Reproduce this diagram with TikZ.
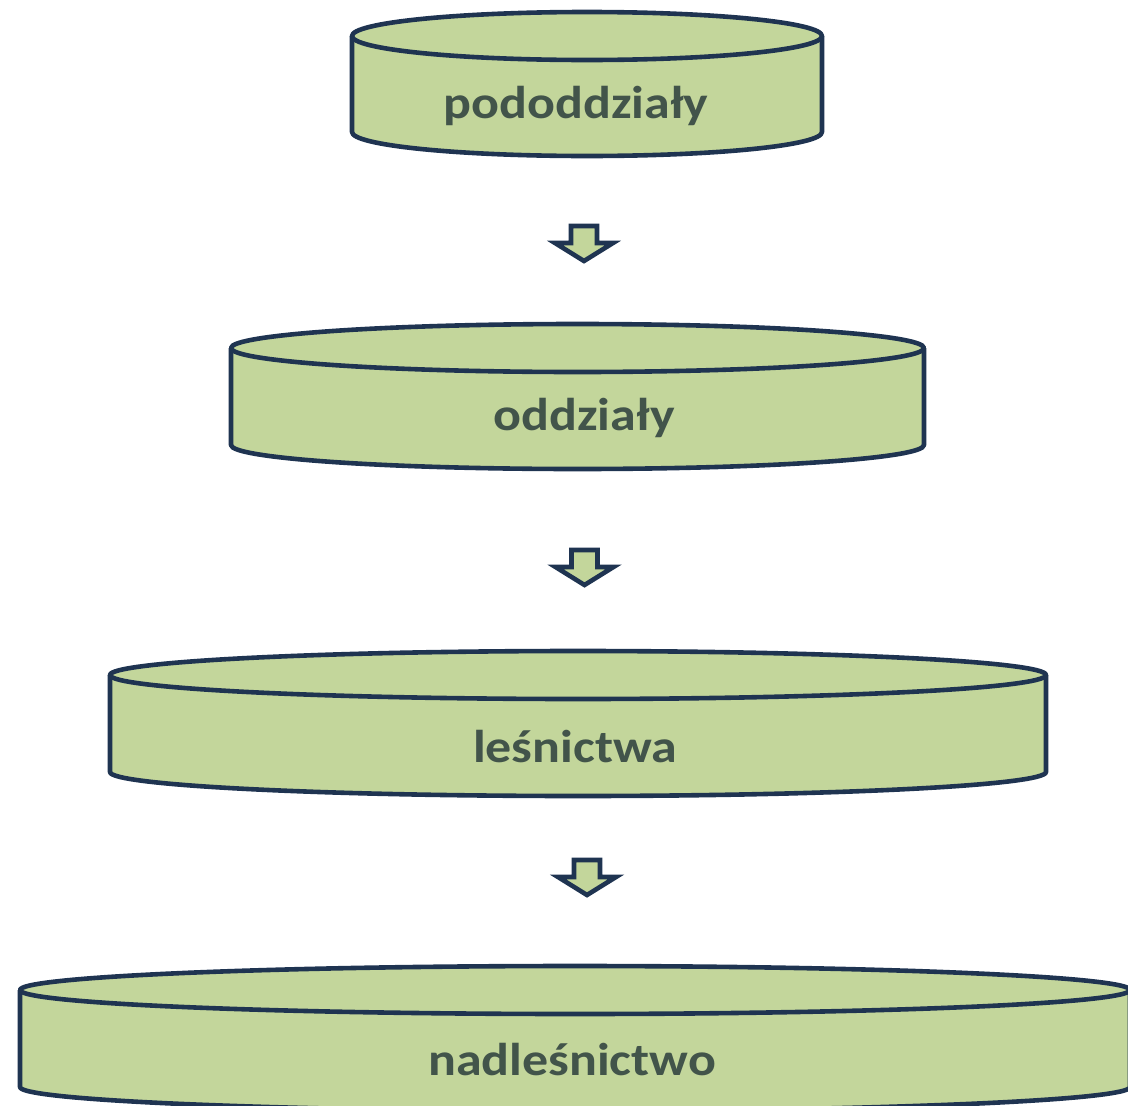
\documentclass[tikz,border=0pt]{standalone}
\usepackage{fontspec}
\setmainfont{Carlito}
\definecolor{drumfill}{HTML}{C3D69B}
\definecolor{drumline}{HTML}{1F3451}
\definecolor{drumtext}{HTML}{42544A}
\begin{document}
\begin{tikzpicture}[x=1pt,y=1pt,
  drumstyle/.style={fill=drumfill, draw=drumline, line width=4.6pt, line join=round},
  drumlabel/.style={font=\bfseries\fontsize{46}{54}\selectfont, text=drumtext, anchor=base, inner sep=0pt, xscale=1.13},
  blockarrow/.style={fill=drumfill, draw=drumline, line width=4.6pt, line join=miter}]
\clip (0,0) rectangle (1128,-1106);
\newcommand\drum[5]{%
  \pgfmathsetmacro\dcx{(#1+#2)/2}\pgfmathsetmacro\drx{(#2-#1)/2}%
  \filldraw[drumstyle] (#1,#3) -- (#1,#4) arc[start angle=180,end angle=360,x radius=\drx,y radius=#5] -- (#2,#3);
  \filldraw[drumstyle] (\dcx,#3) ellipse[x radius=\drx,y radius=#5];
}
\newcommand\barrow[2]{%
  \filldraw[blockarrow] (#1-13,#2) -- (#1+13,#2) -- (#1+13,#2-17) -- (#1+29,#2-17) -- (#1,#2-35) -- (#1-29,#2-17) -- (#1-13,#2-17) -- cycle;
}
\drum{352}{822}{-36}{-132}{24}
\drum{231}{924}{-348}{-445}{24}
\drum{110}{1046}{-675}{-772}{24}
\drum{20}{1130}{-990}{-1087}{24}
\barrow{584}{-226}
\barrow{584.5}{-550}
\barrow{587}{-860}
\node[drumlabel] (t1) at (576,-118) {pododdziały};
\node[drumlabel] (t2) at (584,-430) {oddziały};
\node[drumlabel] (t3) at (575,-762) {leśnictwa};
\node[drumlabel] (t4) at (572,-1075) {nadleśnictwo};
\end{tikzpicture}
\end{document}
